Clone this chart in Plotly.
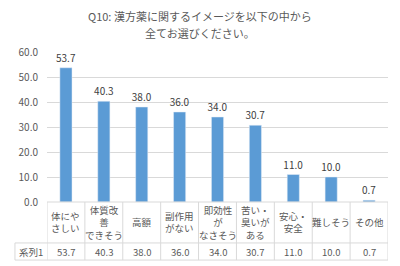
import plotly.graph_objects as go

categories = ["体にや<br>さしい", "体質改<br>善<br>できそう", "高額", "副作用<br>がない",
              "即効性<br>が<br>なさそう", "苦い・<br>臭いが<br>ある", "安心・<br>安全", "難しそう", "その他"]
values = [53.7, 40.3, 38.0, 36.0, 34.0, 30.7, 11.0, 10.0, 0.7]
series_name = "系列1"
title_lines = ["Q10: 漢方薬に関するイメージを以下の中から", "全てお選びください。"]
y_ticks = [0, 10, 20, 30, 40, 50, 60]

FONT = "Noto Sans CJK JP"
GRAY = "#595959"
LINE = "#D9D9D9"
x = list(range(len(categories)))

fig = go.Figure(go.Bar(
    x=x, y=values, marker_color="#5B9BD5",
    text=[f"{v:.1f}" for v in values], textposition="outside",
    textfont=dict(size=10, color="#404040", family=FONT),
    constraintext="none",
    cliponaxis=False,
))

row1_bot = -0.273
row2_bot = -0.387
left_x = -0.094

shapes = []
line = dict(color=LINE, width=1)
shapes.append(dict(type="line", xref="paper", yref="paper", x0=0, x1=1, y0=0, y1=0, line=line))
shapes.append(dict(type="line", xref="paper", yref="paper", x0=left_x, x1=1, y0=row1_bot, y1=row1_bot, line=line))
shapes.append(dict(type="line", xref="paper", yref="paper", x0=left_x, x1=1, y0=row2_bot, y1=row2_bot, line=line))
shapes.append(dict(type="line", xref="paper", yref="paper", x0=left_x, x1=left_x, y0=row1_bot, y1=row2_bot, line=line))
for i in range(len(categories) + 1):
    shapes.append(dict(type="line", xref="x", yref="paper", x0=i - 0.5, x1=i - 0.5,
                       y0=0, y1=row2_bot, line=line))

tfont = dict(size=9.5, color=GRAY, family=FONT)
annotations = []
for i, (c, v) in enumerate(zip(categories, values)):
    annotations.append(dict(x=i, xref="x", y=row1_bot / 2, yref="paper", text=c, showarrow=False,
                            font=tfont, xanchor="center", yanchor="middle"))
    annotations.append(dict(x=i, xref="x", y=(row1_bot + row2_bot) / 2, yref="paper", text=f"{v:.1f}",
                            showarrow=False, font=tfont, xanchor="center", yanchor="middle"))
annotations.append(dict(x=left_x / 2, xref="paper", y=(row1_bot + row2_bot) / 2, yref="paper",
                        text=series_name, showarrow=False, font=tfont,
                        xanchor="center", yanchor="middle"))
for yy, t in zip([1.237, 1.13], title_lines):
    annotations.append(dict(x=200, xref="x domain" if False else "paper", y=yy, yref="paper", text=t,
                            showarrow=False, font=dict(size=11, color=GRAY, family=FONT),
                            xanchor="center", yanchor="middle"))
# center title on the page (x=200px): paper coordinate
annotations[-2]["x"] = (200 - 47) / 341
annotations[-1]["x"] = (200 - 47) / 341

fig.update_layout(
    width=400, height=266,
    margin=dict(l=47, r=12, t=52, b=64),
    paper_bgcolor="white", plot_bgcolor="white",
    showlegend=False,
    bargap=0.68,
    xaxis=dict(range=[-0.5, len(categories) - 0.5], showticklabels=False, showgrid=False,
               zeroline=False, showline=False, ticks=""),
    yaxis=dict(range=[0, 60], tickvals=y_ticks, tickformat=".1f", showgrid=True, gridcolor=LINE,
               gridwidth=1, zeroline=False, showline=False, ticks="", ticklabelstandoff=8,
               tickfont=dict(size=10, color=GRAY, family=FONT)),
    shapes=shapes, annotations=annotations,
    font=dict(family=FONT),
)

fig.write_html("out.html")
